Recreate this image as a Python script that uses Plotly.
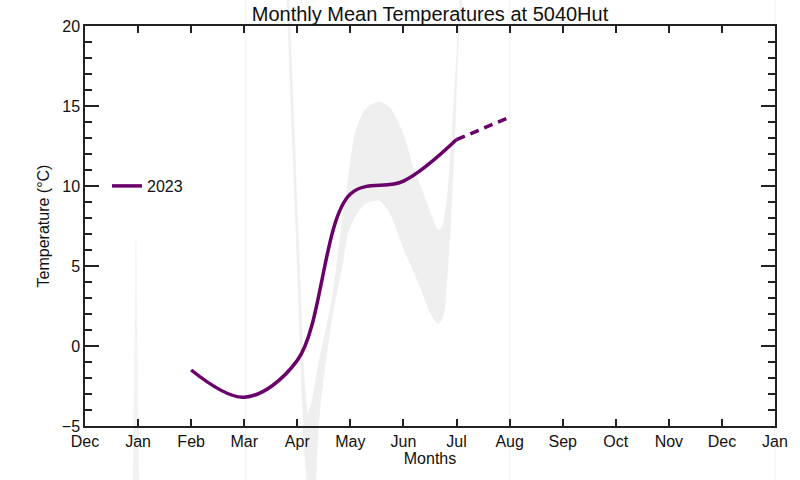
import plotly.graph_objects as go

# ---------------- data ----------------
months = ["Dec", "Jan", "Feb", "Mar", "Apr", "May", "Jun", "Jul",
          "Aug", "Sep", "Oct", "Nov", "Dec", "Jan"]
month_pos = list(range(len(months)))

# 2023 monthly means (Feb..Jul solid, Jul..Aug dashed)
t2023_x = [2, 3, 4, 5, 6, 7]
t2023_y = [-1.5, -3.2, -0.9, 9.5, 10.3, 12.9]
t2023_ext_x = [7, 8]
t2023_ext_y = [12.9, 14.3]

# grey envelope (month units / degC)
band_up_x = [3.787, 3.862, 3.957, 4.051, 4.126, 4.201, 4.277, 4.390, 4.522, 4.654,
             4.842, 4.993, 5.087, 5.276, 5.464, 5.558, 5.746, 5.991, 6.180, 6.368,
             6.557, 6.651, 6.726, 6.820, 6.914, 7.009, 7.065, 7.122]
band_up_y = [26, 20, 12, 4, -1.8, -4.2, -3.4, -1.3, 0.8, 2.9,
             7.7, 11.3, 13.3, 14.75, 15.2, 15.25, 14.9, 13.3, 11.2, 9.6,
             7.9, 7.25, 7.4, 9.1, 13.3, 18.5, 21.6, 26]
band_lo_x = [3.749, 3.825, 3.919, 4.013, 4.088, 4.145, 4.183, 4.239, 4.296, 4.352,
             4.390, 4.446, 4.522, 4.654, 4.842, 4.955, 5.087, 5.276, 5.464, 5.558,
             5.746, 5.991, 6.312, 6.500, 6.651, 6.745, 6.877, 6.971, 7.028, 7.103, 7.159]
band_lo_y = [26, 20, 12, 4, -3, -7, -8.4, -11, -11, -8.4,
             -5.5, -3.3, -1.3, 1.8, 4.9, 7.1, 8.1, 8.9, 9.1, 9.1,
             8.3, 6.2, 3.7, 2.1, 1.4, 1.8, 7.1, 13.3, 18.5, 21.6, 26]

jan_spike_x = [0.90, 0.96, 1.02]
jan_spike_y = [-10, 6.8, -10]

faint_x = [3.03, 8.0, 13.0]
faint_lo, faint_hi = -10, 25

# ---------------- layout geometry ----------------
W, H = 800, 480
L, R, T, B = 85, 775, 26, 426
XMIN, XMAX = 0, 13
YMIN, YMAX = -5, 20
ppx = (R - L) / (XMAX - XMIN)
ppy = (B - T) / (YMAX - YMIN)
full_xr = [XMIN - L / ppx, XMIN + (W - L) / ppx]
full_yr = [YMIN - (H - B) / ppy, YMAX + T / ppy]

BAND = "#efefef"
PURPLE = "#6a006a"
FONT = "Liberation Sans, Arial, Helvetica, sans-serif"

fig = go.Figure()

# envelope on full-page overlay axes (x/y), drawn underneath
fig.add_trace(go.Scatter(
    x=band_up_x + band_lo_x[::-1], y=band_up_y + band_lo_y[::-1],
    fill="toself", fillcolor=BAND,
    line=dict(color=BAND, width=0.5, shape="spline", smoothing=0.6),
    mode="lines", showlegend=False, hoverinfo="skip", xaxis="x", yaxis="y"))
fig.add_trace(go.Scatter(
    x=jan_spike_x, y=jan_spike_y, fill="toself", fillcolor="#f3f3f3",
    line=dict(color="#f3f3f3", width=0.5), mode="lines",
    showlegend=False, hoverinfo="skip", xaxis="x", yaxis="y"))
fx, fy = [], []
for xv in faint_x:
    fx += [xv, xv, None]
    fy += [faint_lo, faint_hi, None]
fig.add_trace(go.Scatter(
    x=fx, y=fy, mode="lines", line=dict(color="#f5f5f5", width=1.5),
    showlegend=False, hoverinfo="skip", xaxis="x", yaxis="y"))

# 2023 line on display axes
fig.add_trace(go.Scatter(
    x=t2023_x, y=t2023_y, mode="lines", name="2023",
    line=dict(color=PURPLE, width=3.5, shape="spline", smoothing=1.0),
    xaxis="x2", yaxis="y2"))
fig.add_trace(go.Scatter(
    x=t2023_ext_x, y=t2023_ext_y, mode="lines", showlegend=False,
    line=dict(color=PURPLE, width=3.5, dash="9px,6px"),
    xaxis="x2", yaxis="y2"))

axis_common = dict(showline=True, linecolor="#222222", linewidth=1.5,
                   mirror="ticks", ticks="inside", tickcolor="#222222",
                   tickwidth=1.5, showgrid=False, zeroline=False,
                   automargin=False,
                   tickfont=dict(size=16, color="#111111", family=FONT))

fig.update_layout(
    width=W, height=H,
    margin=dict(l=0, r=0, t=0, b=0, autoexpand=False),
    paper_bgcolor="white", plot_bgcolor="rgba(0,0,0,0)",
    font=dict(family=FONT, color="#111111"),
    hovermode=False,
    title=dict(text="Monthly Mean Temperatures at 5040Hut",
               x=(L + R) / 2 / W, xanchor="center",
               y=1 - 14 / H, yanchor="middle", automargin=False,
               font=dict(size=20, color="#111111", family=FONT)),
    xaxis=dict(domain=[0, 1], range=full_xr, visible=False, fixedrange=True,
               automargin=False),
    yaxis=dict(domain=[0, 1], range=full_yr, visible=False, fixedrange=True,
               automargin=False),
    xaxis2=dict(domain=[L / W, R / W], range=[XMIN, XMAX], anchor="y2",
                tickvals=month_pos, ticktext=months, ticklen=7,
                title=dict(text="Months", font=dict(size=16, family=FONT), standoff=1),
                **axis_common),
    yaxis2=dict(domain=[1 - B / H, 1 - T / H], range=[YMIN, YMAX], anchor="x2",
                tickvals=[-5, 0, 5, 10, 15, 20], ticklen=14,
                minor=dict(dtick=1, ticklen=7, ticks="inside", tickcolor="#222222",
                           tickwidth=1.5),
                title=dict(text="Temperature (°C)", font=dict(size=16, family=FONT),
                           standoff=8),
                **axis_common),
    legend=dict(x=107 / W, y=1 - 186 / H, xanchor="left", yanchor="middle",
                bgcolor="rgba(0,0,0,0)", font=dict(size=16, family=FONT)),
)

fig.write_html("out.html", config={"displayModeBar": False},
               post_script="document.body.style.margin='0';document.body.style.overflow='hidden';")
